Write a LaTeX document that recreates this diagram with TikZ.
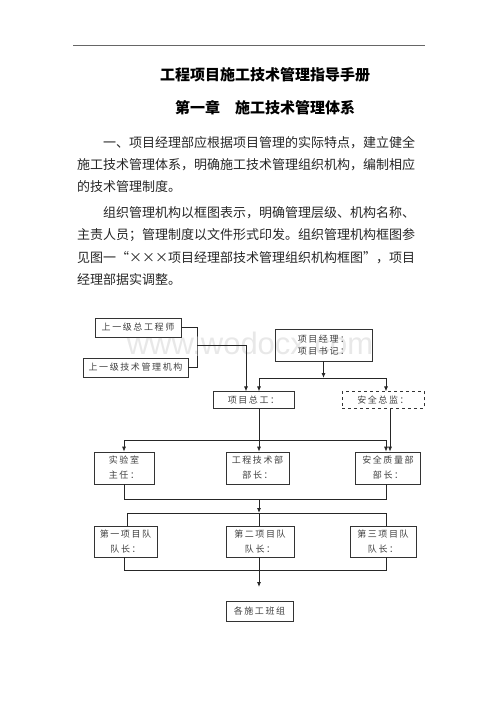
\documentclass[tikz,border=0pt]{standalone}
\usepackage{fontspec}
\usetikzlibrary{arrows.meta}
\newfontfamily\cjk[RawFeature=+fwid]{Noto Sans CJK SC}
\newfontfamily\boxfont[LetterSpace=18]{Noto Sans CJK SC}
\newfontfamily\wmfont{Liberation Sans}
\tikzset{
  bodyline/.style={anchor=west, inner sep=0pt, font=\cjk\fontsize{13}{13}\selectfont, text=black!85},
  titleline/.style={inner sep=0pt, font=\cjk\bfseries\fontsize{15}{15}\selectfont, text=black},
  box/.style={draw=black!80, line width=0.7pt, inner sep=0pt, align=center,
    font=\boxfont\fontsize{9}{15}\selectfont, text=black!75},
  dbox/.style={box, dashed},
  conn/.style={draw=black!85, line width=0.8pt},
  arr/.style={conn, -{Latex[length=5pt,width=4pt]}}
}
\begin{document}
\begin{tikzpicture}[x=1pt,y=-1pt]
\useasboundingbox (0,0) rectangle (500,706);
% header rule
\draw[black!60, line width=0.6pt] (73,45) -- (425,45);
% watermark
\node[inner sep=0pt, text=black!9, font=\wmfont\fontsize{31}{31}\selectfont] (wm) at (250,343) {www.wodocx.com};
% titles
\node[titleline] (t1) at (265,75) {工程项目施工技术管理指导手册};
\node[titleline] (t2) at (265,108) {第一章\hspace{1em}施工技术管理体系};
% body
\node[bodyline] (l1) at (103,143) {一、项目经理部应根据项目管理的实际特点，建立健全};
\node[bodyline] (l2) at (77,165) {施工技术管理体系，明确施工技术管理组织机构，编制相应};
\node[bodyline] (l3) at (77,187) {的技术管理制度。};
\node[bodyline] (l4) at (103,213) {组织管理机构以框图表示，明确管理层级、机构名称、};
\node[bodyline] (l5) at (77,235) {主责人员；管理制度以文件形式印发。组织管理机构框图参};
\node[bodyline] (l6) at (77,258) {见图一“×××项目经理部技术管理组织机构框图”，项目};
\node[bodyline] (l7) at (77,280) {经理部据实调整。};
% boxes
\node[box, minimum width=86, minimum height=19] (z1) at (138,327.5) {上一级总工程师};
\node[box, minimum width=105, minimum height=19] (z2) at (135.5,367.5) {上一级技术管理机构};
\node[box, minimum width=97, minimum height=32, font=\boxfont\fontsize{9}{12.5}\selectfont] (pm) at (323.5,345) {项目经理：\\项目书记：};
\node[box, minimum width=81, minimum height=16.5] (zg) at (253.5,400) {项目总工：};
\node[dbox, minimum width=82, minimum height=16.5] (aq) at (383,400) {安全总监：};
\node[box, minimum width=60, minimum height=32] (sy) at (124,468) {实验室\\主任：};
\node[box, minimum width=63, minimum height=32] (gc) at (257.5,468) {工程技术部\\部长：};
\node[box, minimum width=65, minimum height=32] (aqz) at (388,468) {安全质量部\\部长：};
\node[box, minimum width=63, minimum height=31] (d1) at (125.5,541.5) {第一项目队\\队长：};
\node[box, minimum width=68, minimum height=31] (d2) at (260,541.5) {第二项目队\\队长：};
\node[box, minimum width=66, minimum height=31] (d3) at (383,541.5) {第三项目队\\队长：};
\node[box, minimum width=67, minimum height=20] (bz) at (259.5,611) {各施工班组};
% helper coordinates
\coordinate (bx) at (197,345);
\coordinate (c246) at (246,0);
\coordinate (c259) at (259,0);
\coordinate (c386) at (386,0);
\coordinate (c390) at (390,0);
\coordinate (c124) at (124,0);
\coordinate (c127) at (127,0);
\coordinate (jy1) at (0,378);
\coordinate (j2) at (259,440);
\coordinate (j3) at (259,499);
\coordinate (b3r) at (386,499);
\coordinate (j4) at (259,513);
\coordinate (h4l) at (127,513);
\coordinate (h4r) at (386,513);
\coordinate (h5r) at (386,570);
\coordinate (j6) at (259,587);
% connectors
\draw[conn] (z1.east) -| (bx) |- (z2.east);
\draw[arr] (bx) -| (zg.north -| c246);
\draw[arr] (pm.south) -- (pm.south |- jy1);
\draw[arr] (pm.south |- jy1) -| (zg.north -| c259);
\draw[arr] (pm.south |- jy1) -| (aq.north -| c386);
\draw[arr] (zg.south -| c259) -- (gc.north -| c259);
\draw[arr] (j2) -| (sy.north);
\draw[arr] (j2) -| (aqz.north -| c386);
\draw[arr] (aq.south -| c390) -- (aqz.north -| c390);
\draw[conn] (sy.south) |- (b3r) -- (aqz.south -| b3r);
\draw[arr] (j3) -- (j4);
\draw[conn] (d1.north -| h4l) -- (h4l) -- (h4r) -- (d3.north -| h4r);
\draw[conn] (j4) -- (d2.north -| j4);
\draw[conn] (d1.south -| c124) |- (h5r) -- (d3.south -| h5r);
\draw[arr] (d2.south -| c259) -- (j6);
\end{tikzpicture}
\end{document}
